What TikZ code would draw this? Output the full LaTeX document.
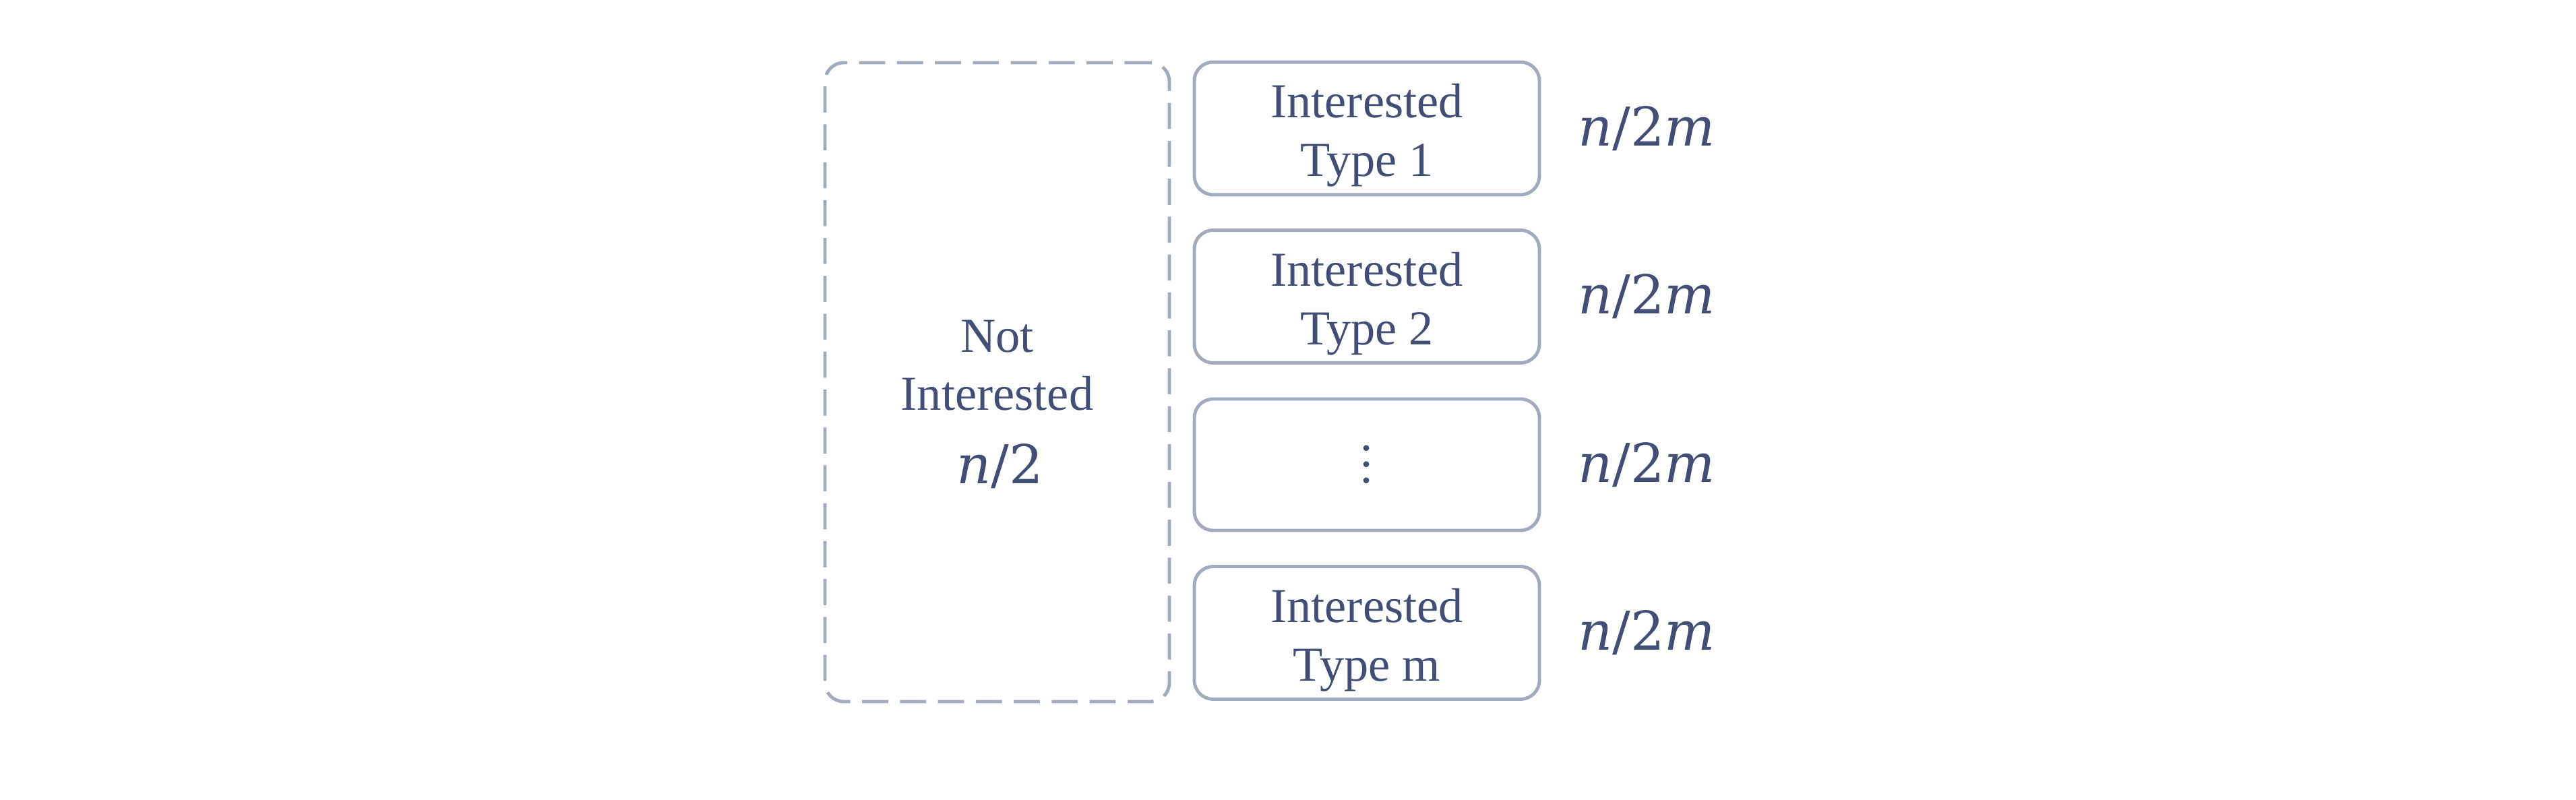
\documentclass[tikz,border=0pt]{standalone}
\usepackage{fontspec}
\setmainfont{Liberation Serif}
\newfontfamily\sharefont{DejaVu Serif}
\usetikzlibrary{positioning}
\definecolor{inktext}{RGB}{66,78,118}
\definecolor{inkline}{RGB}{163,169,190}
\newcommand{\tallvdots}{\vbox{\baselineskip=6.8pt\lineskiplimit=0pt\hbox{.}\hbox{.}\hbox{.}}}

\begin{document}
\begin{tikzpicture}[
    typebox/.style={draw=inkline, line width=1.4pt, rounded corners=0.28cm,
        minimum width=5.12cm, minimum height=1.95cm, align=center,
        text=inktext, font=\fontsize{20.6}{24.7}\selectfont},
    twoline/.style={text height=44.9pt},
    poolbox/.style={draw=inkline, line width=1.4pt, dash pattern=on 11pt off 5pt,
        rounded corners=0.28cm, minimum width=5.11cm, minimum height=9.48cm},
    poollabel/.style={align=center, text=inktext, font=\fontsize{20.6}{24.7}\selectfont},
    share/.style={inner sep=0pt, text=inktext, font=\sharefont\fontsize{22.6}{26}\selectfont}
]
                \useasboundingbox (0,0) rectangle (38.22,11.87);

                % Not interested pool
                \node[poolbox] (pool) at (14.795,6.20) {};
                \node[poollabel, anchor=base] (poolname) at (14.795,5.78) {Not\\Interested};
                \node[share, anchor=base] (poolshare) at (14.84,4.69) {\textit{n}/2};

                % Interested types
                \node[typebox, twoline] (type1) at (20.28,9.965) {Interested\\Type 1};
                \node[typebox, twoline] (type2) at (20.28,7.47) {Interested\\Type 2};
                \node[typebox] (typedots) at (20.28,4.975) {\tallvdots};
                \node[typebox, twoline] (typem) at (20.28,2.48) {Interested\\Type m};

                % Shares
                \node[share, right=0.54cm of type1] (share1) {\textit{n}/2\textit{m}};
                \node[share, right=0.54cm of type2] (share2) {\textit{n}/2\textit{m}};
                \node[share, right=0.54cm of typedots] (sharedots) {\textit{n}/2\textit{m}};
                \node[share, right=0.54cm of typem] (sharem) {\textit{n}/2\textit{m}};
\end{tikzpicture}
\end{document}
